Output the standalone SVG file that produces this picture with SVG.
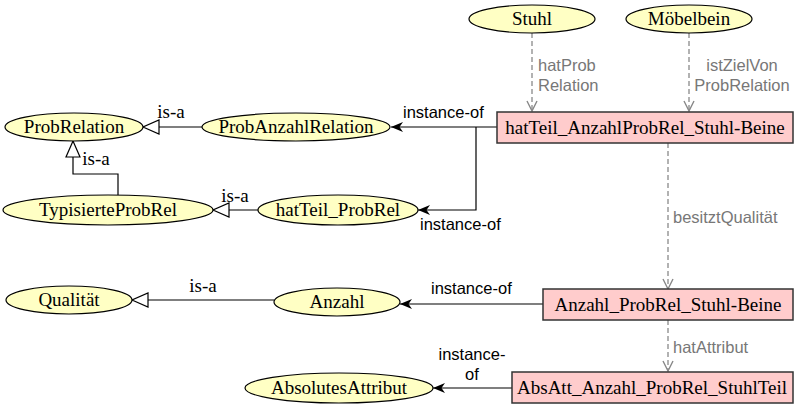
<svg xmlns="http://www.w3.org/2000/svg" width="794" height="406" viewBox="0 0 794 406">
<style>
.ell{fill:#ffffc4;stroke:#000;stroke-width:1.2}
.box{fill:#ffcccc;stroke:#333;stroke-width:1.5}
.nt{font-family:"Liberation Serif",serif;font-size:19px;fill:#000;text-anchor:middle}
.e{fill:none;stroke:#000;stroke-width:1.2}
.d{fill:none;stroke:#999;stroke-width:1.5;stroke-dasharray:5 3}
.lb{font-family:"Liberation Sans",sans-serif;font-size:16.5px;fill:#000}
.lg{font-family:"Liberation Sans",sans-serif;font-size:16.5px;fill:#777}
</style>
<defs>
<marker id="cl" viewBox="0 0 12 10" refX="12" refY="5" markerWidth="12" markerHeight="10" markerUnits="userSpaceOnUse" orient="auto"><path d="M12,5 L0,0 L3.5,5 L0,10 Z" fill="#000"/></marker>
<marker id="tri" viewBox="-1 -1 18 16" refX="16" refY="7" markerWidth="18" markerHeight="16" markerUnits="userSpaceOnUse" orient="auto"><path d="M16,7 L0,0 L0,14 Z" fill="#fff" stroke="#000" stroke-width="1.2"/></marker>
<marker id="ov" viewBox="-1 -1 13 12" refX="10" refY="5" markerWidth="13" markerHeight="12" markerUnits="userSpaceOnUse" orient="auto"><path d="M0,0 L10,5 L0,10" fill="none" stroke="#888" stroke-width="1.4"/></marker>
</defs>
<g id="connectors">
<path class="d" d="M532,33 V111" marker-end="url(#ov)"/>
<path class="d" d="M689,33 V111" marker-end="url(#ov)"/>
<path class="d" d="M668,143 V289" marker-end="url(#ov)"/>
<path class="d" d="M668,320 V371" marker-end="url(#ov)"/>
<path class="e" d="M497,127 H391" marker-end="url(#cl)"/>
<path class="e" d="M476,127 V210 H418" marker-end="url(#cl)"/>
<path class="e" d="M202,127 H143" marker-end="url(#tri)"/>
<path class="e" d="M118,195 V174 H73 V141" marker-end="url(#tri)"/>
<path class="e" d="M258,210 H213" marker-end="url(#tri)"/>
<path class="e" d="M274,300 H132" marker-end="url(#tri)"/>
<path class="e" d="M543,304 H400" marker-end="url(#cl)"/>
<path class="e" d="M512,388 H433" marker-end="url(#cl)"/>
<text class="lg" x="538" y="71">hatProb</text>
<text class="lg" x="538" y="91">Relation</text>
<text class="lg" x="742" y="71" text-anchor="middle">istZielVon</text>
<text class="lg" x="742" y="91" text-anchor="middle">ProbRelation</text>
<text class="lg" x="673" y="223">besitztQualität</text>
<text class="lg" x="673" y="353">hatAttribut</text>
<text class="lb" x="403" y="118">instance-of</text>
<text class="lb" x="420" y="230">instance-of</text>
<text class="lb" x="431" y="294">instance-of</text>
<text class="lb" x="472" y="360" text-anchor="middle">instance-</text>
<text class="lb" x="472" y="380" text-anchor="middle">of</text>
<text class="nt" x="171" y="118" font-size="18">is-a</text>
<text class="nt" x="96" y="165" font-size="18">is-a</text>
<text class="nt" x="235" y="202" font-size="18">is-a</text>
<text class="nt" x="203" y="292" font-size="18">is-a</text>
</g>
<g id="n-stuhl"><ellipse class="ell" cx="532" cy="19" rx="63" ry="14"/><text class="nt" x="532" y="25">Stuhl</text></g>
<g id="n-moebelbein"><ellipse class="ell" cx="689" cy="19" rx="63" ry="14"/><text class="nt" x="689" y="25">Möbelbein</text></g>
<g id="n-box1"><rect class="box" x="497" y="112" width="296" height="31"/><text class="nt" x="645" y="134">hatTeil_AnzahlProbRel_Stuhl-Beine</text></g>
<g id="n-probrelation"><ellipse class="ell" cx="74" cy="127" rx="69" ry="14"/><text class="nt" x="74" y="133">ProbRelation</text></g>
<g id="n-probanzahlrelation"><ellipse class="ell" cx="296" cy="127" rx="94" ry="14"/><text class="nt" x="296" y="133">ProbAnzahlRelation</text></g>
<g id="n-typisierteprobrel"><ellipse class="ell" cx="108" cy="210" rx="105" ry="15"/><text class="nt" x="108" y="216">TypisierteProbRel</text></g>
<g id="n-hatteilprobrel"><ellipse class="ell" cx="338" cy="210" rx="80" ry="15"/><text class="nt" x="338" y="216">hatTeil_ProbRel</text></g>
<g id="n-qualitaet"><ellipse class="ell" cx="69" cy="300" rx="63" ry="14"/><text class="nt" x="69" y="306">Qualität</text></g>
<g id="n-anzahl"><ellipse class="ell" cx="337" cy="302" rx="63" ry="14"/><text class="nt" x="337" y="308">Anzahl</text></g>
<g id="n-box2"><rect class="box" x="543" y="289" width="250" height="31"/><text class="nt" x="668" y="311">Anzahl_ProbRel_Stuhl-Beine</text></g>
<g id="n-absolutesattribut"><ellipse class="ell" cx="339" cy="388" rx="94" ry="15"/><text class="nt" x="339" y="394">AbsolutesAttribut</text></g>
<g id="n-box3"><rect class="box" x="512" y="372" width="281" height="31"/><text class="nt" x="652" y="394">AbsAtt_Anzahl_ProbRel_StuhlTeil</text></g>
</svg>
